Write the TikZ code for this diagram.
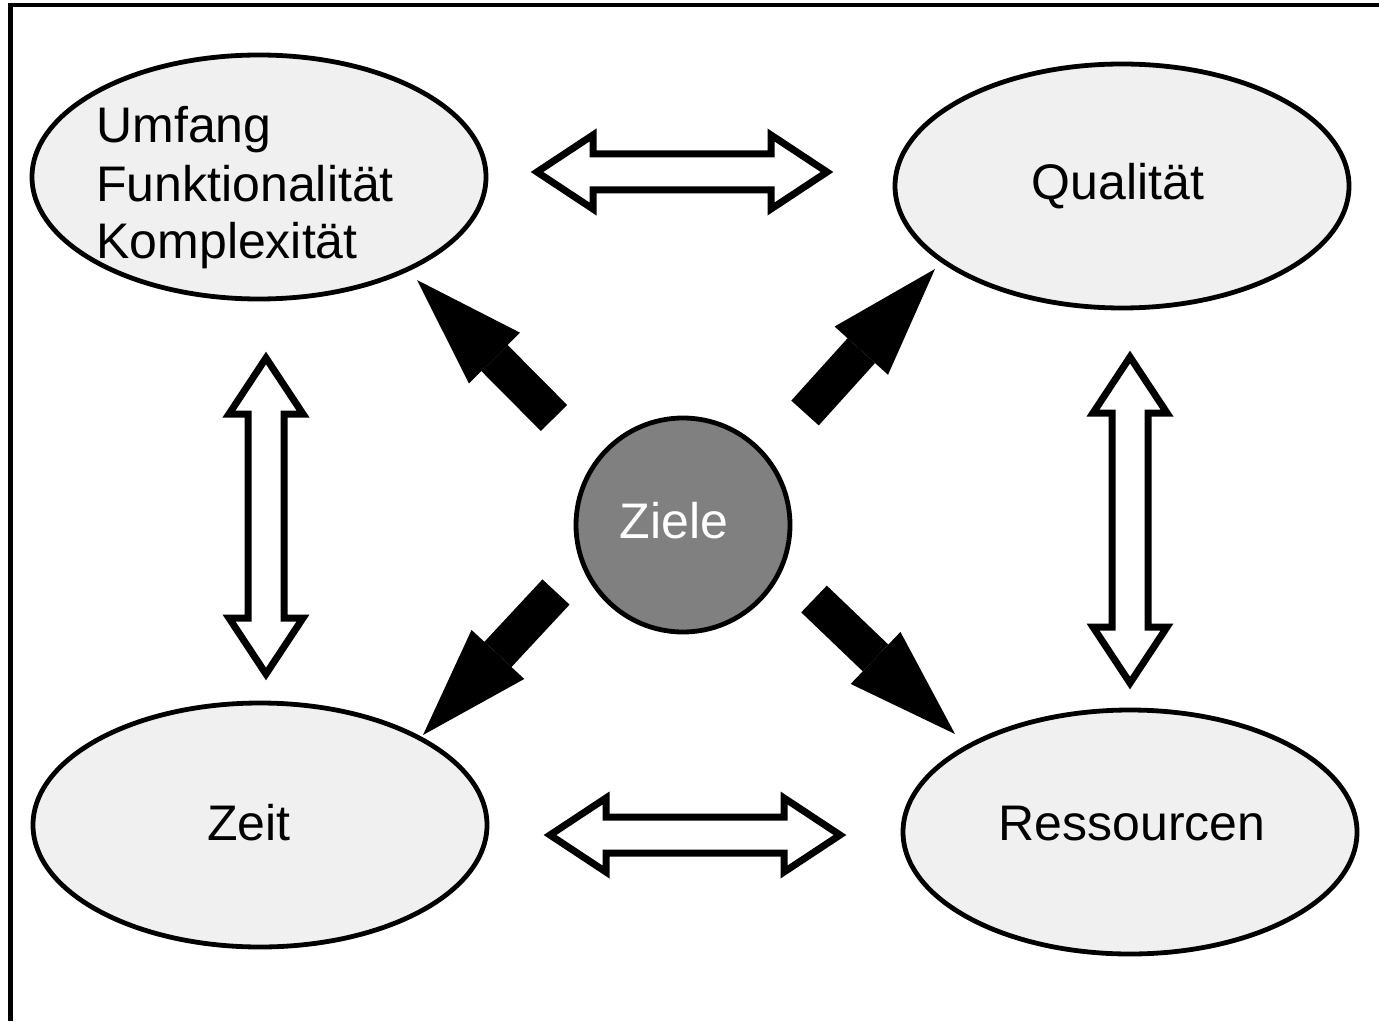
\documentclass[tikz,border=0pt]{standalone}
\usepackage{fontspec}
\setmainfont{Liberation Sans}
\usetikzlibrary{shapes.geometric,arrows.meta}
\definecolor{ellfill}{HTML}{F0F0F0}
\definecolor{goalfill}{HTML}{808080}
\begin{document}
\begin{tikzpicture}[x=0.5pt,y=-0.5pt,
  ell/.style={ellipse, draw=black, line width=2.4pt, fill=ellfill, inner sep=0pt, minimum width=227pt, minimum height=122pt},
  lbl/.style={font=\fontsize{25pt}{29pt}\selectfont, inner sep=0pt},
  blk/.style={line width=18.5pt, -{Triangle[length=55pt,width=36pt,line width=0pt]}},
  dblstyle/.style={draw=black, fill=white, line width=3.5pt, line join=miter},
  pics/dbl/.style={code={
    \draw[dblstyle] (-#1,0) -- (-#1+56,-37) -- (-#1+56,-18) -- (#1-56,-18) -- (#1-56,-37) -- (#1,0)
      -- (#1-56,37) -- (#1-56,18) -- (-#1+56,18) -- (-#1+56,37) -- cycle;
  }}
]
\useasboundingbox (0,0) rectangle (1379,1021);
\draw[line width=2.2pt] (10.5,1021) -- (10.5,5) -- (1379,5);

% ellipses
\node[ell] (scope) at (259,177) {};
\node[ell] (quality) at (1122,186) {};
\node[ell] (time) at (260,825) {};
\node[ell] (resources) at (1130,832) {};
\node[circle, draw=black, line width=2.4pt, fill=goalfill, minimum size=107pt, inner sep=0pt] (goals) at (683,525) {};

% labels
\node[lbl, anchor=base west] (l1) at (96,143) {Umfang};
\node[lbl, anchor=base west] (l2) at (96,202) {Funktionalität};
\node[lbl, anchor=base west] (l3) at (96,259) {Komplexität};
\node[lbl, anchor=base] (lq) at (1118,200) {Qualität};
\node[lbl, anchor=base] (lz) at (249,840) {Zeit};
\node[lbl, anchor=base] (lr) at (1132,840) {Ressourcen};
\node[lbl, anchor=base, text=white] (lg) at (674,538) {Ziele};

% black arrows
\coordinate (nwtail) at (554,418); \coordinate (nwtip) at (417,280);
\coordinate (netail) at (805,413); \coordinate (netip) at (935,269);
\coordinate (swtail) at (556,592); \coordinate (swtip) at (423,735);
\coordinate (setail) at (814,599); \coordinate (setip) at (955,734);
\draw[blk] (nwtail) -- (nwtip);
\draw[blk] (netail) -- (netip);
\draw[blk] (swtail) -- (swtip);
\draw[blk] (setail) -- (setip);

% double arrows
\pic (dtop) at (682,172) {dbl=145};
\pic (dbottom) at (695,835) {dbl=145};
\pic[rotate=90] (dleft) at (266,516) {dbl=158};
\pic[rotate=90] (dright) at (1130,520) {dbl=163};
\end{tikzpicture}
\end{document}
